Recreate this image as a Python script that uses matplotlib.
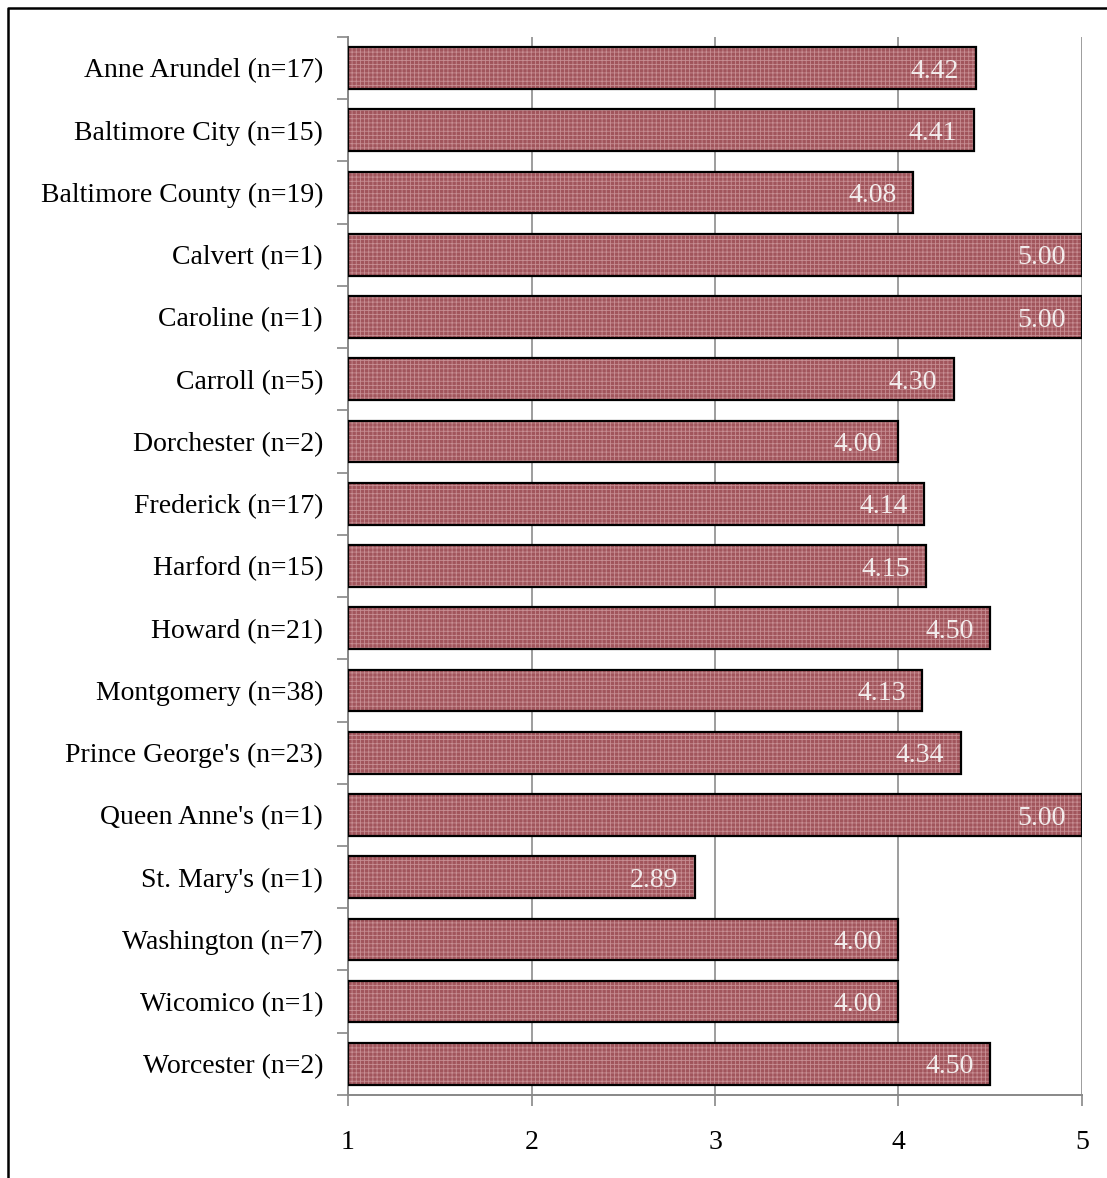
import matplotlib.pyplot as plt
import matplotlib as mpl
from matplotlib.lines import Line2D

mpl.rcParams['font.family'] = 'Liberation Serif'

counties = ["Anne Arundel (n=17)", "Baltimore City (n=15)", "Baltimore County (n=19)",
            "Calvert (n=1)", "Caroline (n=1)", "Carroll (n=5)", "Dorchester (n=2)",
            "Frederick (n=17)", "Harford (n=15)", "Howard (n=21)", "Montgomery (n=38)",
            "Prince George's (n=23)", "Queen Anne's (n=1)", "St. Mary's (n=1)",
            "Washington (n=7)", "Wicomico (n=1)", "Worcester (n=2)"]
scores = [4.42, 4.41, 4.08, 5.00, 5.00, 4.30, 4.00, 4.14, 4.15, 4.50, 4.13,
          4.34, 5.00, 2.89, 4.00, 4.00, 4.50]
x_ticks = [1, 2, 3, 4, 5]

fig = plt.figure(figsize=(11.07, 11.78), dpi=100)
ax = fig.add_axes([0.3144, 0.0705, 0.6630, 0.8981])

pos = list(range(len(counties)))
widths = [s - 1 for s in scores]

mpl.rcParams['hatch.linewidth'] = 0.6
# checkered fill first, then a plain black outline on top
ax.barh(pos, widths, left=1, height=0.67, color='#a1555c', edgecolor='#c78e93',
        hatch='++++', linewidth=0, zorder=2)
ax.barh(pos, widths, left=1, height=0.67, fill=False, edgecolor='black',
        linewidth=1.6, zorder=3)

for y, s in zip(pos, scores):
    ax.text(s - 0.09, y + 0.05, f"{s:.2f}", ha='right', va='center', color='#f2ecec',
            fontsize=20, zorder=4)

ax.set_xlim(1, 5)
ax.set_ylim(len(counties) - 0.5, -0.5)
ax.set_xticks(x_ticks)
ax.set_xticklabels([str(t) for t in x_ticks], fontsize=20)
ax.set_yticks(pos)
ax.set_yticklabels(counties, fontsize=20)

# ticks on the left sit between categories
ax.set_yticks([p - 0.5 for p in pos] + [len(pos) - 0.5], minor=True)
ax.tick_params(axis='y', which='major', length=0, pad=18)
ax.tick_params(axis='y', which='minor', length=8, color='#888888', width=1.2)
ax.tick_params(axis='x', length=8, color='#888888', width=1.2, pad=17)

ax.grid(axis='x', color='#8c8c8c', linewidth=1.2, zorder=0)
ax.set_axisbelow(True)
for side in ['top', 'right']:
    ax.spines[side].set_visible(False)
for side in ['left', 'bottom']:
    ax.spines[side].set_color('#888888')
    ax.spines[side].set_linewidth(1.4)

# outer frame (left and top edges)
fig.add_artist(Line2D([8 / 1107, 8 / 1107, 1.0], [0.0, 1 - 8 / 1178, 1 - 8 / 1178],
                      transform=fig.transFigure, color='black', linewidth=1.8))

fig.savefig('out.png', dpi=100)
